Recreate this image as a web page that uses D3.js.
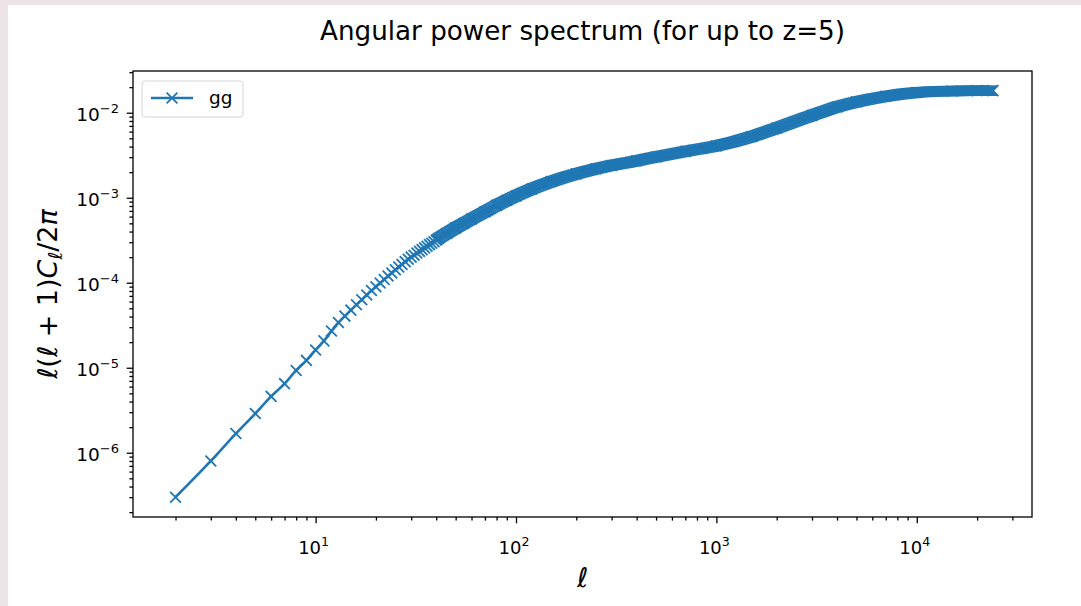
<!DOCTYPE html>
<meta charset="utf-8">
<title>Angular power spectrum</title>
<style>
body {
  margin: 0px;
  background: #fff;
}
svg {
  font-family: "DejaVu Sans", sans-serif;
}
</style>
<script src="https://d3js.org/d3.v7.min.js"></script>
<body>
<script>
// multipoles and l(l+1)Cl/2pi
var ells = [2, 3, 4, 5, 6, 7, 8, 9, 10, 11, 12, 13, 14, 15, 16, 17, 18, 19, 20,
  21, 22, 23, 24, 25, 26, 27, 28, 29, 30, 31, 32, 33, 34, 35, 36, 37, 38, 39,
  40, 41, 45, 50, 55, 60, 70, 80, 90, 100, 120, 150, 200, 250, 300, 400, 500,
  700, 1000, 1500, 2000, 3000, 4000, 5000, 7000, 10000, 15000, 20000, 24000];
var cls = [3.0e-7, 8.0e-7, 1.68e-6, 2.89e-6, 4.6e-6, 6.5e-6, 9.3e-6, 1.22e-5,
  1.62e-5, 2.07e-5, 2.7e-5, 3.4e-5, 4.05e-5, 4.76e-5, 5.52e-5, 6.32e-5, 7.18e-5,
  8.09e-5, 8.99e-5, 9.95e-5, 1.09e-4, 1.20e-4, 1.30e-4, 1.42e-4, 1.53e-4,
  1.64e-4, 1.77e-4, 1.89e-4, 2.0e-4, 2.11e-4, 2.24e-4, 2.34e-4, 2.45e-4,
  2.57e-4, 2.69e-4, 2.81e-4, 2.92e-4, 3.04e-4, 3.17e-4, 3.31e-4, 3.80e-4,
  4.42e-4, 5.01e-4, 5.62e-4, 6.84e-4, 8.13e-4, 9.33e-4, 1.05e-3, 1.27e-3,
  1.55e-3, 1.91e-3, 2.19e-3, 2.40e-3, 2.72e-3, 3.02e-3, 3.51e-3, 4.07e-3,
  5.25e-3, 6.6e-3, 9.3e-3, 1.17e-2, 1.34e-2, 1.56e-2, 1.73e-2, 1.80e-2,
  1.82e-2, 1.82e-2];
var xTicks = [1e1, 1e2, 1e3, 1e4];
var xExps = ["1", "2", "3", "4"];
var yTicks = [1e-6, 1e-5, 1e-4, 1e-3, 1e-2];
var yExps = ["\u22126", "\u22125", "\u22124", "\u22123", "\u22122"];
var seriesName = "gg";
var titleText = "Angular power spectrum (for up to z=5)";

var width = 1081, height = 606;
var mLeft = 133, mRight = 1032, mTop = 71, mBottom = 517;
var blue = "#1f77b4";

var svg = d3.select("body").append("svg")
    .attr("width", width)
    .attr("height", height);

// light frame of the page round the figure
svg.append("rect").attr("x", 0).attr("y", 0).attr("width", 8).attr("height", height).attr("fill", "#ece4e6");
svg.append("rect").attr("x", 0).attr("y", 0).attr("width", width).attr("height", 5).attr("fill", "#ece4e6");

var x = d3.scaleLog()
    .domain([Math.pow(10, 0.0888), Math.pow(10, 4.575)])
    .range([mLeft, mRight]);
var y = d3.scaleLog()
    .domain([Math.pow(10, -6.756), Math.pow(10, -1.509)])
    .range([mBottom, mTop]);

var minorX = [], minorY = [];
[1e0, 1e1, 1e2, 1e3, 1e4].forEach(function(p) {
  for (var k = 2; k < 10; k++) {
    var v = k * p;
    if (v > x.domain()[0] && v < x.domain()[1]) minorX.push(v);
  }
});
[1e-7, 1e-6, 1e-5, 1e-4, 1e-3, 1e-2].forEach(function(p) {
  for (var k = 2; k < 10; k++) {
    var v = k * p;
    if (v > y.domain()[0] && v < y.domain()[1]) minorY.push(v);
  }
});

// axes
var gx = svg.append("g").attr("transform", "translate(0," + mBottom + ")");
gx.append("g").call(d3.axisBottom(x).tickValues(minorX).tickSize(3.6).tickFormat(""));
gx.append("g").call(d3.axisBottom(x).tickValues(xTicks).tickSize(6.3).tickFormat(""));
var gy = svg.append("g").attr("transform", "translate(" + mLeft + ",0)");
gy.append("g").call(d3.axisLeft(y).tickValues(minorY).tickSize(3.6).tickFormat(""));
gy.append("g").call(d3.axisLeft(y).tickValues(yTicks).tickSize(6.3).tickFormat(""));
svg.selectAll(".domain").remove();
svg.selectAll(".tick line").attr("stroke", "#000").attr("stroke-width", 1.3);

// tick labels as 10^n
svg.selectAll(".xlab")
    .data(xTicks)
  .enter().append("text")
    .attr("class", "xlab")
    .attr("x", function(d) { return x(d) - 2; })
    .attr("y", 554)
    .attr("text-anchor", "middle")
    .attr("font-size", 18)
    .attr("fill", "#000")
    .each(function(d, i) {
      var t = d3.select(this);
      t.append("tspan").text("10");
      t.append("tspan").attr("dy", -8).attr("font-size", 12.6).text(xExps[i]);
    });

svg.selectAll(".ylab")
    .data(yTicks)
  .enter().append("text")
    .attr("class", "ylab")
    .attr("x", 119)
    .attr("y", function(d) { return y(d) + 8; })
    .attr("text-anchor", "end")
    .attr("font-size", 18.5)
    .attr("fill", "#000")
    .each(function(d, i) {
      var t = d3.select(this);
      t.append("tspan").text("10");
      t.append("tspan").attr("dy", -8).attr("font-size", 13).text(yExps[i]);
    });

// series
var pts = ells.map(function(l, i) { return [l, cls[i]]; });
var line = d3.line()
    .curve(d3.curveMonotoneX)
    .x(function(d) { return x(d[0]); })
    .y(function(d) { return y(d[1]); });
var plot = svg.append("g");

// where the x markers pile up they form a solid band: sweep the line
// along both arms of the marker
var bandPts = pts.filter(function(d) { return d[0] >= 40; });
var band = plot.append("g");
d3.range(-4.6, 4.61, 0.92).forEach(function(t) {
  [[t, t], [t, -t]].forEach(function(o) {
    band.append("path")
        .datum(bandPts)
        .attr("d", line)
        .attr("transform", "translate(" + o + ")")
        .attr("fill", "none")
        .attr("stroke", blue)
        .attr("stroke-width", 1.6);
  });
});

plot.append("path")
    .datum(pts)
    .attr("d", line)
    .attr("fill", "none")
    .attr("stroke", blue)
    .attr("stroke-width", 2.6);

var xMark = "M-5.4,-5.4L5.4,5.4M-5.4,5.4L5.4,-5.4";
plot.selectAll(".mark")
    .data(pts)
  .enter().append("path")
    .attr("class", "mark")
    .attr("d", xMark)
    .attr("transform", function(d) { return "translate(" + x(d[0]) + "," + y(d[1]) + ")"; })
    .attr("fill", "none")
    .attr("stroke", blue)
    .attr("stroke-width", 1.8);

// frame
svg.append("rect")
    .attr("x", mLeft)
    .attr("y", mTop)
    .attr("width", mRight - mLeft)
    .attr("height", mBottom - mTop)
    .attr("fill", "none")
    .attr("stroke", "#000")
    .attr("stroke-width", 1.3);

// legend
var lg = svg.append("g").attr("transform", "translate(142,81)");
lg.append("rect")
    .attr("width", 101)
    .attr("height", 36)
    .attr("rx", 3)
    .attr("fill", "#fff")
    .attr("fill-opacity", 0.8)
    .attr("stroke", "#d6d6d6");
lg.append("line")
    .attr("x1", 9).attr("x2", 51)
    .attr("y1", 17).attr("y2", 17)
    .attr("stroke", blue)
    .attr("stroke-width", 2.6);
lg.append("path")
    .attr("d", xMark)
    .attr("transform", "translate(30,17)")
    .attr("fill", "none")
    .attr("stroke", blue)
    .attr("stroke-width", 1.8);
lg.append("text")
    .attr("x", 67)
    .attr("y", 23)
    .attr("font-size", 18.5)
    .attr("fill", "#000")
    .text(seriesName);

// title and labels
svg.append("text")
    .attr("x", (mLeft + mRight) / 2)
    .attr("y", 40)
    .attr("text-anchor", "middle")
    .attr("font-size", 26.2)
    .attr("fill", "#000")
    .text(titleText);

var xl = svg.append("text")
    .attr("x", (mLeft + mRight) / 2)
    .attr("y", 587)
    .attr("text-anchor", "middle")
    .attr("font-size", 27)
    .attr("fill", "#000");
xl.append("tspan").attr("font-style", "italic").text("\u2113");

var yl = svg.append("text")
    .attr("transform", "translate(57," + ((mTop + mBottom) / 2) + ") rotate(-90)")
    .attr("text-anchor", "middle")
    .attr("font-size", 27)
    .attr("fill", "#000");
yl.append("tspan").attr("font-style", "italic").text("\u2113");
yl.append("tspan").text("(");
yl.append("tspan").attr("font-style", "italic").text("\u2113");
yl.append("tspan").text(" + 1)");
yl.append("tspan").attr("font-style", "italic").text("C");
yl.append("tspan").attr("font-style", "italic").attr("font-size", 19).attr("dy", 5).text("\u2113");
yl.append("tspan").attr("dy", -5).text("/2");
yl.append("tspan").attr("font-style", "italic").text("\u03c0");
</script>
